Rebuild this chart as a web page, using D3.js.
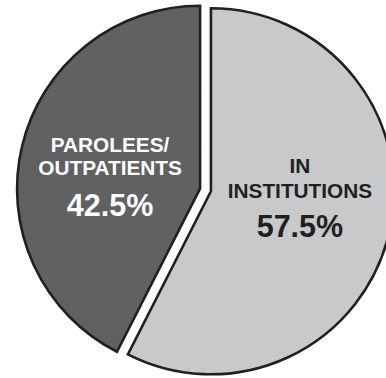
<!DOCTYPE html>
<html>
<head>
<meta charset="utf-8">
<script src="https://cdn.jsdelivr.net/npm/d3@7/dist/d3.min.js"></script>
<style>
  html, body { margin: 0; padding: 0; background: #ffffff; }
  svg { display: block; }
  text { font-family: "Liberation Sans", Arial, Helvetica, sans-serif; font-weight: bold; }
</style>
</head>
<body>
<svg id="chart" width="386" height="378"></svg>
<script>
// ---- data ----
const categories = ["IN INSTITUTIONS", "PAROLEES/OUTPATIENTS"];
const values = [57.5, 42.5];
const labelLines = [["IN", "INSTITUTIONS"], ["PAROLEES/", "OUTPATIENTS"]];
const percentLabels = ["57.5%", "42.5%"];
const fills = ["#c8c9cb", "#616163"];
const textColors = ["#231f20", "#ffffff"];

// ---- layout ----
const width = 386, height = 378;
const cx = 205.5, cy = 190, radius = 183, explode = 5.6;
const svg = d3.select("#chart");

const pie = d3.pie().sort(null).startAngle(0).endAngle(2 * Math.PI);
const arcs = pie(values);
const arc = d3.arc().innerRadius(0).outerRadius(radius);

const g = svg.append("g").attr("transform", `translate(${cx},${cy})`);

const slices = g.selectAll("g.slice")
  .data(arcs)
  .enter().append("g")
  .attr("class", "slice")
  .attr("transform", d => {
    const a = (d.startAngle + d.endAngle) / 2;
    return `translate(${Math.sin(a) * explode},${-Math.cos(a) * explode})`;
  });

slices.append("path")
  .attr("d", arc)
  .attr("fill", (d, i) => fills[i])
  .attr("stroke", "#231f20")
  .attr("stroke-width", 2.6)
  .attr("stroke-linejoin", "miter");

// label anchor offsets relative to each slice's centre (line baselines)
const labelDx = [89, -90];
const lineDy = [[-18.5, 6.5], [-36.5, -13.5]];
const pctDy = [45.5, 27.5];

slices.each(function (d, i) {
  const s = d3.select(this);
  labelLines[i].forEach((t, j) => {
    s.append("text")
      .attr("x", labelDx[i])
      .attr("y", lineDy[i][j])
      .attr("text-anchor", "middle")
      .attr("font-size", 20.8)
      .attr("fill", textColors[i])
      .text(t);
  });
  s.append("text")
    .attr("x", labelDx[i])
    .attr("y", pctDy[i])
    .attr("text-anchor", "middle")
    .attr("font-size", 30.5)
    .attr("fill", textColors[i])
    .text(percentLabels[i]);
});
</script>
</body>
</html>
